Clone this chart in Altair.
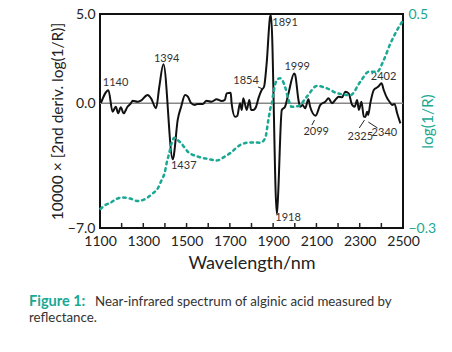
import altair as alt
import pandas as pd

# 2nd derivative spectrum (left axis, x10000)
deriv_nm = [1104, 1139, 1158, 1173, 1184, 1196, 1209, 1227, 1243, 1251, 1274, 1289, 1320, 1336, 1359, 1374, 1393,
            1436, 1440, 1459, 1475, 1493, 1506, 1521, 1537, 1552, 1575, 1592, 1615, 1639, 1662, 1677, 1685, 1704,
            1708, 1724, 1734, 1747, 1755, 1762, 1778, 1790, 1798, 1808, 1821, 1832, 1847, 1858, 1870, 1886, 1890,
            1917, 1921, 1940, 1955, 1971, 1997, 2002, 2017, 2025, 2036, 2048, 2063, 2071, 2096, 2118, 2141, 2156,
            2172, 2187, 2203, 2218, 2234, 2249, 2265, 2277, 2288, 2296, 2308, 2319, 2326, 2334, 2339, 2349, 2365,
            2385, 2401, 2411, 2427, 2438, 2450, 2461, 2473, 2488]
deriv_val = [0.0, 0.73, -0.48, -0.2, -0.57, -0.23, -0.57, -0.2, 0.0, 0.14, 0.08, 0.14, 0.46, 0.27, -0.29, 0.92, 2.18,
             -3.15, -3.0, -0.94, -0.2, 0.46, 0.36, 0.0, -0.1, -0.04, -0.04, 0.14, 0.08, 0.22, 0.12, 0.18, 0.55, 0.59,
             0.0, -0.76, -0.72, 0.0, -0.38, 0.27, -0.38, 0.18, -0.38, -0.38, -0.2, 0.27, 0.74, 0.92, 2.23, 4.85, 4.95,
             -6.2, -5.6, -0.38, -0.2, 0.55, 1.67, 1.58, 0.18, -0.2, -0.1, -0.29, 0.22, -0.2, -0.7, -0.1, 0.08, 0.27,
             0.0, 0.18, 0.36, 0.33, 0.64, 0.55, -0.1, -0.2, 0.18, -0.38, 0.08, -0.76, -0.78, -0.48, -0.66, 0.0, 0.74,
             0.92, 1.11, 0.74, 0.27, 0.08, -0.1, -0.04, -0.57, -1.13]

# log(1/R) spectrum (right axis)
abs_nm = [1102, 1123, 1150, 1180, 1204, 1240, 1274, 1300, 1320, 1345, 1367, 1385, 1398, 1410, 1420, 1430, 1444,
          1460, 1475, 1506, 1552, 1600, 1639, 1670, 1700, 1747, 1793, 1840, 1863, 1878, 1889, 1894, 1901, 1917,
          1932, 1955, 1971, 1986, 2017, 2056, 2102, 2149, 2195, 2257, 2303, 2342, 2380, 2411, 2442, 2473, 2496]
abs_val = [-0.229, -0.215, -0.205, -0.19, -0.186, -0.19, -0.199, -0.195, -0.186, -0.17, -0.152, -0.12, -0.096,
           -0.05, -0.02, 0.015, 0.037, 0.028, 0.017, -0.015, -0.033, -0.042, -0.048, -0.036, -0.021, 0.010, 0.020,
           0.019, 0.035, 0.104, 0.153, 0.165, 0.203, 0.253, 0.260, 0.228, 0.179, 0.153, 0.156, 0.191, 0.231, 0.222,
           0.204, 0.197, 0.247, 0.284, 0.284, 0.328, 0.390, 0.440, 0.471]

# Peak labels (text, x in nm, y in left-axis units)
peak_text = ["1140", "1394", "1437", "1854", "1891", "1999", "1918", "2099", "2402", "2325", "2340"]
peak_x = [1172, 1408, 1487, 1775, 1955, 2011, 1969, 2099, 2410, 2303, 2414]
peak_y = [1.13, 2.48, -3.52, 1.24, 4.5, 2.03, -6.44, -1.62, 1.47, -1.90, -1.67]

# Leader lines
lead_x = [1830, 2079, 2298, 2340]
lead_x2 = [1853, 2091, 2322, 2382]
lead_y = [0.91, -1.23, -1.39, -1.06]
lead_y2 = [0.79, -0.95, -0.95, -1.39]

x_ticks = [1100, 1300, 1500, 1700, 1900, 2100, 2300, 2500]
minor_ticks = [1200, 1300, 1400, 1500, 1600, 1700, 1800, 1900, 2000, 2100, 2200, 2300, 2400]

FONT = "Lato"
TEAL = "#1aa893"
INK = "#222222"

xs = alt.Scale(domain=[1100, 2500], nice=False, zero=False)
yl = alt.Scale(domain=[-7, 5], nice=False, zero=False)
yr = alt.Scale(domain=[-0.3, 0.5], nice=False, zero=False)

deriv_df = pd.DataFrame({"nm": deriv_nm, "v": deriv_val})
abs_df = pd.DataFrame({"nm": abs_nm, "v": abs_val})
peaks_df = pd.DataFrame({"t": peak_text, "x": peak_x, "y": peak_y})
lead_df = pd.DataFrame({"x": lead_x, "x2": lead_x2, "y": lead_y, "y2": lead_y2})
ticks_df = pd.DataFrame({"x": minor_ticks, "y": [-7.0] * len(minor_ticks), "y2": [-6.72] * len(minor_ticks)})
zero_df = pd.DataFrame({"y": [0.0]})

xaxis = alt.Axis(values=x_ticks, format="d", title="Wavelength/nm", ticks=False, domain=False, grid=False,
                 labelOverlap=False, labelFlush=False, labelBound=False,
                 labelFont=FONT, labelFontSize=14, labelColor=INK, labelPadding=6,
                 titleFont=FONT, titleFontSize=18, titleFontWeight="normal", titleColor=INK, titlePadding=6)
yaxis = alt.Axis(values=[5, 0, -7], format=".1f", title="10000 × [2nd deriv. log(1/R)]", ticks=False,
                 labelOverlap=False, labelFlush=False, labelBound=False,
                 domain=False, grid=False, labelFont=FONT, labelFontSize=14, labelColor=INK, labelPadding=5,
                 titleFont=FONT, titleFontSize=15.5, titleFontWeight="normal", titleColor=INK, titlePadding=2)
raxis = alt.Axis(values=[0.5, -0.3], format=".1f", title="log(1/R)", orient="right", ticks=False, domain=False,
                 labelOverlap=False, labelFlush=False, labelBound=False,
                 grid=False, labelFont=FONT, labelFontSize=14, labelColor=TEAL, labelPadding=5,
                 titleFont=FONT, titleFontSize=15.5, titleFontWeight="normal", titleColor=TEAL, titlePadding=0,
                 titleAngle=270)

X = lambda f: alt.X(f, scale=xs, axis=xaxis)
YL = lambda f: alt.Y(f, scale=yl, axis=yaxis)

zero = alt.Chart(zero_df).mark_rule(color="#888888", strokeWidth=1.5).encode(
    y=YL("y:Q"), x=alt.value(0), x2=alt.value(303))

minor = alt.Chart(ticks_df).mark_rule(color=INK, strokeWidth=1.5).encode(
    x=X("x:Q"), y=YL("y:Q"), y2="y2:Q")

deriv = alt.Chart(deriv_df).mark_line(color="#111111", strokeWidth=2, interpolate="monotone").encode(
    x=X("nm:Q"), y=YL("v:Q"))

leads = alt.Chart(lead_df).mark_rule(color=INK, strokeWidth=1).encode(
    x=X("x:Q"), x2="x2:Q", y=YL("y:Q"), y2="y2:Q")

labels = alt.Chart(peaks_df).mark_text(font=FONT, fontSize=11, color="#333333").encode(
    x=X("x:Q"), y=YL("y:Q"), text="t:N")

cap1 = alt.Chart(zero_df).mark_text(text="Figure 1:", font=FONT, fontSize=14.5, fontWeight="bold", color=TEAL,
                                    align="left", baseline="middle").encode(x=alt.value(-71), y=alt.value(288))
cap2 = alt.Chart(zero_df).mark_text(text="Near-infrared spectrum of alginic acid measured by", font=FONT,
                                    fontSize=13.3, color="#333333", align="left", baseline="middle").encode(
    x=alt.value(-5), y=alt.value(288))
cap3 = alt.Chart(zero_df).mark_text(text="reflectance.", font=FONT, fontSize=13.3, color="#333333",
                                    align="left", baseline="middle").encode(x=alt.value(-71), y=alt.value(304))

left = alt.layer(zero, minor, deriv, leads, labels, cap1, cap2, cap3)

right = alt.Chart(abs_df).mark_line(color=TEAL, strokeWidth=2.5, strokeDash=[2.5, 4], strokeCap="round",
                                    interpolate="monotone").encode(
    x=X("nm:Q"),
    y=alt.Y("v:Q", scale=yr, axis=raxis))

chart = alt.layer(left, right).resolve_scale(y="independent").properties(
    width=303, height=214,
    autosize=alt.AutoSizeParams(type="none"),
    padding={"left": 100, "top": 14, "right": 49, "bottom": 124},
    background="white",
).configure_view(stroke="#111111", strokeWidth=2)

chart.save("out.html", embed_options={"renderer": "svg", "actions": False})
